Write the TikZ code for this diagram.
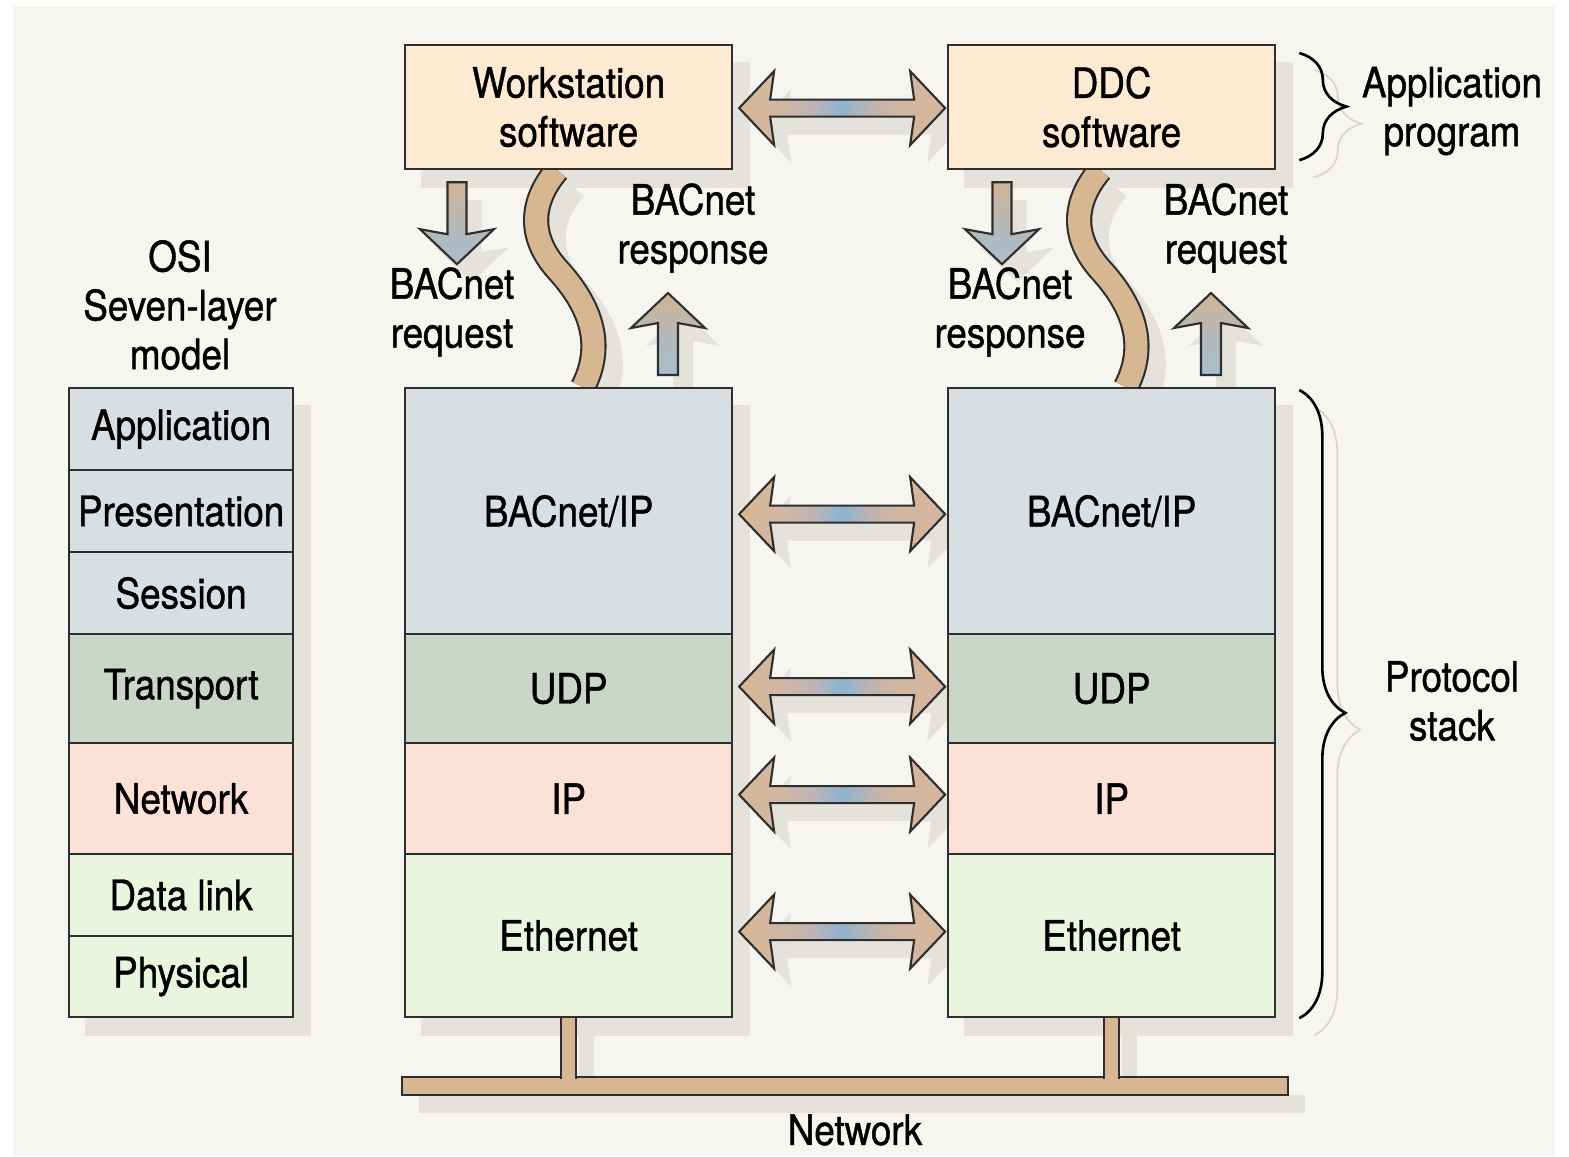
\documentclass[tikz,border=0pt]{standalone}
\usepackage{fontspec}
\setmainfont{TeX Gyre Heros}[FakeStretch=0.88,FakeBold=1]
\usetikzlibrary{calc,decorations.pathreplacing}
\pgfdeclarelayer{shade}
\pgfdeclarelayer{under}
\pgfsetlayers{shade,under,main}

\definecolor{panelc}{HTML}{F6F5EF}
\definecolor{shadowc}{HTML}{E5E2DC}
\definecolor{borderc}{HTML}{2E2E2E}
\definecolor{appc}{HTML}{FCEBD2}
\definecolor{upperc}{HTML}{D9DEE3}
\definecolor{transc}{HTML}{C9D6C8}
\definecolor{netc}{HTML}{FCE1D6}
\definecolor{linkc}{HTML}{EBF4DD}
\definecolor{tanc}{HTML}{D6B792}
\definecolor{braceshc}{HTML}{DDD2D3}

% colours of the peer-to-peer arrows (tan ends, blue middle)
\definecolor{shA}{HTML}{D8B792}
\definecolor{shB}{HTML}{D0B7A6}
\definecolor{shC}{HTML}{BDB4B8}
\definecolor{shD}{HTML}{8CB3CF}
\definecolor{shE}{HTML}{BFB4AE}
\definecolor{shF}{HTML}{D3B7A0}
\definecolor{shG}{HTML}{D6B59E}
\pgfdeclarehorizontalshading{peershade}{100bp}{color(0bp)=(shA); color(25bp)=(shA); color(36bp)=(shB); color(43bp)=(shC); color(50bp)=(shD); color(57bp)=(shE); color(64bp)=(shF); color(75bp)=(shG); color(100bp)=(shG)}

% colours of the request/response arrows (tan top, blue-grey bottom)
\definecolor{vbot}{HTML}{A7BECF}
\definecolor{vmid}{HTML}{B6B8B6}
\definecolor{vtop}{HTML}{CFB695}
\pgfdeclareverticalshading{flowshade}{100bp}{color(0bp)=(vbot); color(25bp)=(vbot); color(50bp)=(vmid); color(75bp)=(vtop); color(100bp)=(vtop)}

\newcommand\lblfont{\fontsize{11.9pt}{13.9pt}\selectfont}

\begin{document}
\begin{tikzpicture}[
  x=0.01cm, y=-0.01cm,
  cell/.style={draw=borderc, line width=0.6pt, inner sep=0pt, rectangle, font=\lblfont, anchor=north west},
  osicell/.style={cell, minimum width=2.24cm},
  stackcell/.style={cell, minimum width=3.27cm},
  txt/.style={align=center, font=\lblfont, inner sep=0pt},
  arrowline/.style={draw=borderc, line width=0.6pt, line join=miter},
  band/.style={line width=0.6pt, draw=borderc, double=tanc, double distance=0.22cm},
  bandshadow/.style={line width=0.25cm, draw=shadowc},
  bracepath/.style={decorate, line width=0.75pt, draw=black},
  pics/peer/.style={code={\path[#1] (-103,0) -- (-68,-37) -- (-72,-8.5) -- (72,-8.5) -- (68,-37) -- (103,0) -- (68,37) -- (72,8.5) -- (-72,8.5) -- (-68,37) -- cycle;}},
  pics/reqdown/.style={code={\path[#1] (-9.5,0) -- (9.5,0) -- (9.5,52) -- (37,47) -- (0,82) -- (-37,47) -- (-9.5,52) -- cycle;}},
  pics/respup/.style={code={\path[#1] (-10,0) -- (10,0) -- (10,-52) -- (37,-47) -- (0,-82) -- (-37,-47) -- (-10,-52) -- cycle;}}
]
\useasboundingbox (0,0) rectangle (1569,1156);

% ---------------- boxes ----------------
% OSI reference model
\node[osicell, fill=upperc, minimum height=0.82cm] (oapp) at (68,387) {Application};
\node[osicell, fill=upperc, minimum height=0.82cm] (opres) at (68,469) {Presentation};
\node[osicell, fill=upperc, minimum height=0.82cm] (osess) at (68,551) {Session};
\node[osicell, fill=transc, minimum height=1.09cm] (otrans) at (68,633) {Transport};
\node[osicell, fill=netc, minimum height=1.11cm] (onet) at (68,742) {Network};
\node[osicell, fill=linkc, minimum height=0.82cm] (olink) at (68,853) {Data link};
\node[osicell, fill=linkc, minimum height=0.81cm] (ophys) at (68,935) {Physical};

% application programs
\node[stackcell, fill=appc, minimum height=1.24cm, align=center] (ws) at (404,44) {Workstation\\software};
\node[stackcell, fill=appc, minimum height=1.24cm, align=center] (ddc) at (947,44) {DDC\\software};

% protocol stacks
\node[stackcell, fill=upperc, minimum height=2.46cm] (bip1) at (404,387) {BACnet/IP};
\node[stackcell, fill=transc, minimum height=1.09cm] (udp1) at (404,633) {UDP};
\node[stackcell, fill=netc, minimum height=1.11cm] (ip1) at (404,742) {IP};
\node[stackcell, fill=linkc, minimum height=1.63cm] (eth1) at (404,853) {Ethernet};

\node[stackcell, fill=upperc, minimum height=2.46cm] (bip2) at (947,387) {BACnet/IP};
\node[stackcell, fill=transc, minimum height=1.09cm] (udp2) at (947,633) {UDP};
\node[stackcell, fill=netc, minimum height=1.11cm] (ip2) at (947,742) {IP};
\node[stackcell, fill=linkc, minimum height=1.63cm] (eth2) at (947,853) {Ethernet};

% ---------------- reference points ----------------
\coordinate (m0) at ($(ws.east)!0.5!(ddc.west)+(2,1)$);
\coordinate (m1) at ($(bip1.east)!0.5!(bip2.west)+(2,3)$);
\coordinate (m2) at ($(udp1.east)!0.5!(udp2.west)+(2,-2)$);
\coordinate (m3) at ($(ip1.east)!0.5!(ip2.west)+(2,-4)$);
\coordinate (m4) at ($(eth1.east)!0.5!(eth2.west)+(2,-4)$);

\coordinate (d1) at ($(ws.south west)+(53,12)$);
\coordinate (d2) at ($(ddc.south west)+(55,12)$);
\coordinate (u1) at ($(bip1.north west)+(264,-12)$);
\coordinate (u2) at ($(bip2.north west)+(264,-12)$);

\coordinate (c1a) at ($(ws.south west)+(153,0)$);
\coordinate (c1b) at ($(bip1.north west)+(179,0)$);
\coordinate (c2a) at ($(ddc.south west)+(153,0)$);
\coordinate (c2b) at ($(bip2.north west)+(179,0)$);

\coordinate (bustop) at (0,1078.5);

% ---------------- panel and drop shadows ----------------
\begin{pgfonlayer}{shade}
  \fill[white] (0,0) rectangle (1569,1156);
  \fill[panelc] (13,6) rectangle (1555,1156);
  \fill[shadowc] ($(oapp.north west)+(17,18)$) rectangle ($(ophys.south east)+(17,18)$);
  \fill[shadowc] ($(ws.north west)+(17,18)$) rectangle ($(ws.south east)+(17,18)$);
  \fill[shadowc] ($(ddc.north west)+(17,18)$) rectangle ($(ddc.south east)+(17,18)$);
  \fill[shadowc] ($(bip1.north west)+(17,18)$) rectangle ($(eth1.south east)+(17,18)$);
  \fill[shadowc] ($(bip2.north west)+(17,18)$) rectangle ($(eth2.south east)+(17,18)$);
  \fill[shadowc] (419,1095) rectangle (1305,1113);
  \fill[shadowc] ($(eth1.south)+(10,18)$) rectangle ($(eth1.south)+(25,1095)-(0,1016)$);
  \fill[shadowc] ($(eth2.south)+(10,18)$) rectangle ($(eth2.south)+(25,1095)-(0,1016)$);
  \foreach \m in {m0,m1,m2,m3,m4}
    \pic at ($(\m)+(17,18)$) {peer={fill=shadowc}};
  \pic at ($(d1)+(15,18)$) {reqdown={fill=shadowc}};
  \pic at ($(d2)+(15,18)$) {reqdown={fill=shadowc}};
  \pic at ($(u1)+(15,18)$) {respup={fill=shadowc}};
  \pic at ($(u2)+(15,18)$) {respup={fill=shadowc}};
  \begin{scope}[transform canvas={shift={(0.17cm,-0.18cm)}}]
    \draw[bandshadow] (c1a) .. controls ($(c1a)+(-27,32)$) and ($(c1a)+(-29,67)$) .. ($(c1a)+(1,100)$)
      .. controls ($(c1a)+(31,133)$) and ($(c1a)+(49,172)$) .. (c1b);
    \draw[bandshadow] (c2a) .. controls ($(c2a)+(-27,32)$) and ($(c2a)+(-29,67)$) .. ($(c2a)+(1,100)$)
      .. controls ($(c2a)+(31,133)$) and ($(c2a)+(49,172)$) .. (c2b);
  \end{scope}
  % faint brace shadows
  \draw[bracepath, draw=braceshc, line width=0.5pt, decoration={brace, amplitude=0.47cm}]
    ($(ddc.north east)+(38,26)$) -- ($(ddc.south east)+(38,7)$);
  \draw[bracepath, draw=braceshc, line width=0.5pt, decoration={brace, amplitude=0.46cm, aspect=0.514}]
    ($(bip2.north east)+(38,20)$) -- ($(eth2.south east)+(38,17)$);
\end{pgfonlayer}

% ---------------- links between software and stacks, network bus ----------------
\begin{pgfonlayer}{under}
  \draw[band] (c1a) .. controls ($(c1a)+(-27,32)$) and ($(c1a)+(-29,67)$) .. ($(c1a)+(1,100)$)
    .. controls ($(c1a)+(31,133)$) and ($(c1a)+(49,172)$) .. (c1b);
  \draw[band] (c2a) .. controls ($(c2a)+(-27,32)$) and ($(c2a)+(-29,67)$) .. ($(c2a)+(1,100)$)
    .. controls ($(c2a)+(31,133)$) and ($(c2a)+(49,172)$) .. (c2b);
  \draw[borderc, line width=0.6pt, fill=tanc] (402,1077) rectangle (1288,1095);
  \draw[line width=0.6pt, draw=borderc, double=tanc, double distance=0.13cm] (eth1.south) -- (eth1.south |- bustop);
  \draw[line width=0.6pt, draw=borderc, double=tanc, double distance=0.13cm] (eth2.south) -- (eth2.south |- bustop);
\end{pgfonlayer}

% ---------------- arrows ----------------
\foreach \m in {m0,m1,m2,m3,m4}
  \pic at (\m) {peer={arrowline, shading=peershade}};
\pic at (d1) {reqdown={arrowline, shading=flowshade}};
\pic at (d2) {reqdown={arrowline, shading=flowshade}};
\pic at (u1) {respup={arrowline, shading=flowshade}};
\pic at (u2) {respup={arrowline, shading=flowshade}};

% ---------------- braces ----------------
\draw[bracepath, decoration={brace, amplitude=0.47cm}]
  ($(ddc.north east)+(23,9)$) -- ($(ddc.south east)+(23,-10)$);
\draw[bracepath, decoration={brace, amplitude=0.46cm, aspect=0.514}]
  ($(bip2.north east)+(23,3)$) -- ($(eth2.south east)+(23,0)$);

% ---------------- labels ----------------
\node[txt] (osititle) at (180,305) {OSI\\Seven-layer\\model};
\node[txt] (reqL) at (452,312) {BACnet\\request};
\node[txt] (respL) at (693,228) {BACnet\\response};
\node[txt] (respR) at (1010,312) {BACnet\\response};
\node[txt] (reqR) at (1226,228) {BACnet\\request};
\node[txt] (appprog) at (1452,111) {Application\\program};
\node[txt] (pstack) at (1452,701) {Protocol\\stack};
\node[txt] (netlbl) at (855,1130) {Network};
\end{tikzpicture}
\end{document}
